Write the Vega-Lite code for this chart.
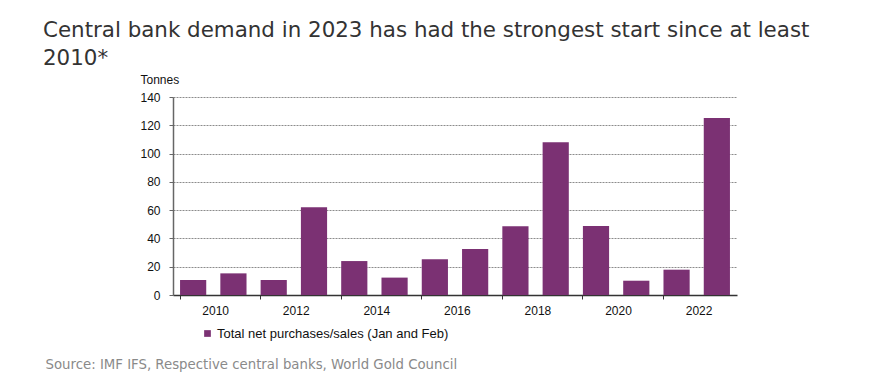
{
  "$schema": "https://vega.github.io/schema/vega-lite/v6.json",
  "width": 564,
  "height": 198,
  "autosize": {"type": "none"},
  "padding": {"left": 173, "top": 97, "right": 143, "bottom": 87},
  "background": "white",
  "title": {
    "text": ["Central bank demand in 2023 has had the strongest start since at least", "2010*"],
    "anchor": "start",
    "frame": "group",
    "dx": -130,
    "dy": 2,
    "font": "DejaVu Sans",
    "fontSize": 21.4,
    "fontWeight": "normal",
    "color": "#333333",
    "lineHeight": 28,
    "offset": 6
  },
  "data": {
    "values": [
      {"year": "2010", "tonnes": 10.6, "series": "Total net purchases/sales (Jan and Feb)"},
      {"year": "2011", "tonnes": 15.3, "series": "Total net purchases/sales (Jan and Feb)"},
      {"year": "2012", "tonnes": 10.6, "series": "Total net purchases/sales (Jan and Feb)"},
      {"year": "2013", "tonnes": 62, "series": "Total net purchases/sales (Jan and Feb)"},
      {"year": "2014", "tonnes": 24, "series": "Total net purchases/sales (Jan and Feb)"},
      {"year": "2015", "tonnes": 12.3, "series": "Total net purchases/sales (Jan and Feb)"},
      {"year": "2016", "tonnes": 25.2, "series": "Total net purchases/sales (Jan and Feb)"},
      {"year": "2017", "tonnes": 32.5, "series": "Total net purchases/sales (Jan and Feb)"},
      {"year": "2018", "tonnes": 48.6, "series": "Total net purchases/sales (Jan and Feb)"},
      {"year": "2019", "tonnes": 108, "series": "Total net purchases/sales (Jan and Feb)"},
      {"year": "2020", "tonnes": 48.8, "series": "Total net purchases/sales (Jan and Feb)"},
      {"year": "2021", "tonnes": 10.1, "series": "Total net purchases/sales (Jan and Feb)"},
      {"year": "2022", "tonnes": 17.9, "series": "Total net purchases/sales (Jan and Feb)"},
      {"year": "2023", "tonnes": 125.2, "series": "Total net purchases/sales (Jan and Feb)"}
    ]
  },
  "mark": {"type": "bar"},
  "encoding": {
    "x": {
      "field": "year",
      "type": "ordinal",
      "scale": {"paddingInner": 0.35, "paddingOuter": 0.175},
      "axis": {
        "values": ["2010", "2012", "2014", "2016", "2018", "2020", "2022"],
        "bandPosition": 0,
        "labelOffset": 22.5,
        "labelAngle": 0,
        "labelFont": "Liberation Sans",
        "labelFontSize": 12,
        "labelColor": "#111111",
        "labelPadding": 6,
        "tickSize": 4,
        "tickColor": "#333333",
        "domainColor": "#333333",
        "domainWidth": 1.5,
        "grid": false,
        "title": "Source: IMF IFS, Respective central banks, World Gold Council",
        "titleX": -128,
        "titleY": 73,
        "titleAlign": "left",
        "titleBaseline": "alphabetic",
        "titleFont": "DejaVu Sans",
        "titleFontSize": 13.3,
        "titleFontWeight": "normal",
        "titleColor": "#8a8a8a"
      }
    },
    "y": {
      "field": "tonnes",
      "type": "quantitative",
      "scale": {"domain": [0, 140]},
      "axis": {
        "values": [0, 20, 40, 60, 80, 100, 120, 140],
        "labelFont": "Liberation Sans",
        "labelFontSize": 12,
        "labelColor": "#111111",
        "labelPadding": 9,
        "tickSize": 4,
        "tickColor": "#666666",
        "domainColor": "#666666",
        "domainWidth": 1.5,
        "grid": true,
        "gridColor": "#8c8c8c",
        "gridDash": [2, 1],
        "gridWidth": 1,
        "title": "Tonnes",
        "titleAngle": 0,
        "titleX": -33,
        "titleY": -14,
        "titleAlign": "left",
        "titleBaseline": "alphabetic",
        "titleFont": "Liberation Sans",
        "titleFontSize": 12,
        "titleFontWeight": "normal",
        "titleColor": "#111111"
      }
    },
    "color": {
      "field": "series",
      "type": "nominal",
      "scale": {"range": ["#7b3173"]},
      "legend": {
        "orient": "none",
        "legendX": 28,
        "legendY": 230,
        "title": null,
        "padding": 0,
        "symbolType": "square",
        "symbolSize": 45,
        "symbolStrokeWidth": 0,
        "labelFont": "Liberation Sans",
        "labelFontSize": 13,
        "labelColor": "#111111",
        "labelOffset": 3,
        "labelLimit": 400
      }
    }
  },
  "config": {"view": {"stroke": null}}
}
